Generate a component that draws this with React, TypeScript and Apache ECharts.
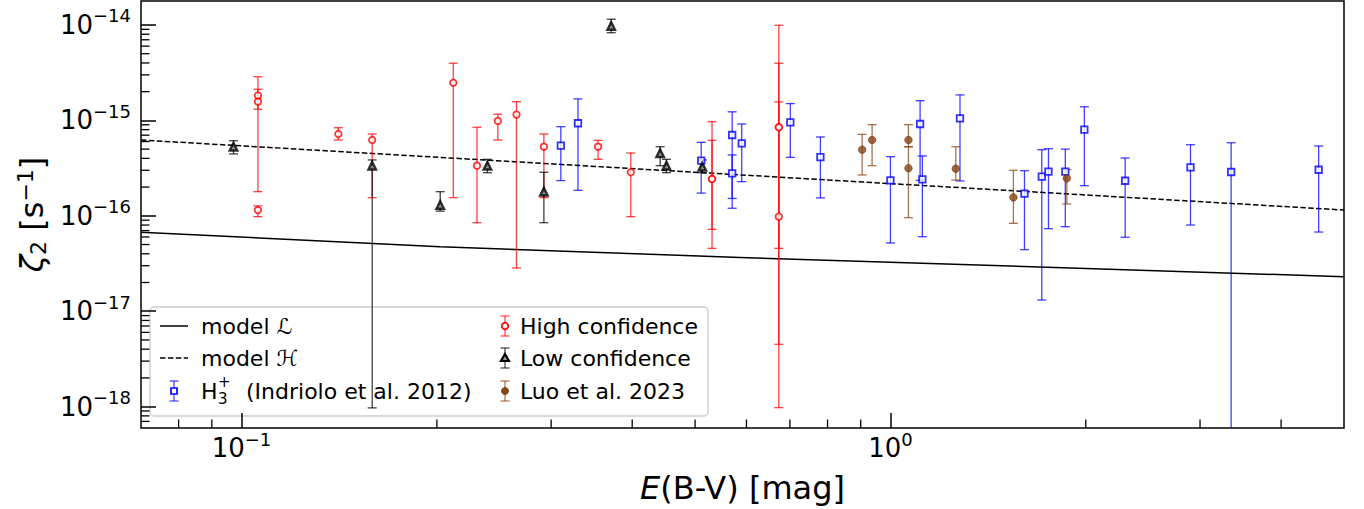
import React, { useEffect, useRef } from "react";
import * as echarts from "echarts";

const FONT = "DejaVu Sans";
const X_MIN = 0.07;
const X_MAX = 5.0;
const Y_MIN = 5.97e-19;
const Y_MAX = 1.784e-14;

// model curves
const modelLX = [0.07, 0.2024, 0.5867, 5.0];
const modelLY = [6.71e-17, 4.74e-17, 3.66e-17, 2.3e-17];
const modelHX = [0.07, 5.0];
const modelHY = [6.23e-16, 1.15e-16];

// High confidence (red circles): x, value, lower bound, upper bound
const highX = [0.106, 0.106, 0.106, 0.141, 0.159, 0.212, 0.2306, 0.2483, 0.2653, 0.2924, 0.3544, 0.398, 0.531, 0.531, 0.673, 0.673, 0.673];
const highY = [1.82e-15, 1.57e-15, 1.15e-16, 7.2e-16, 6.23e-16, 2.48e-15, 3.35e-16, 9.87e-16, 1.15e-15, 5.3e-16, 5.3e-16, 2.86e-16, 2.43e-16, 2.43e-16, 8.47e-16, 9.8e-17, 8.47e-16];
const highLo = [1.31e-15, 1.79e-16, 9.8e-17, 6.23e-16, 1.55e-16, 1.55e-16, 8.47e-17, 6.23e-16, 2.84e-17, 1.55e-16, 3.91e-16, 9.8e-17, 4.56e-17, 7.22e-17, 4.5e-18, 9.75e-19, 4.56e-17];
const highHi = [2.12e-15, 2.87e-15, 1.27e-16, 8.38e-16, 7.2e-16, 3.97e-15, 8.47e-16, 1.16e-15, 1.57e-15, 7.2e-16, 6.18e-16, 4.55e-16, 9.69e-16, 6.18e-16, 9.93e-15, 3.97e-15, 1.56e-15];

// Low confidence (black triangles)
const lowX = [0.0972, 0.159, 0.2024, 0.2393, 0.2924, 0.3713, 0.4417, 0.4517, 0.513];
const lowY = [5.3e-16, 3.35e-16, 1.3e-16, 3.35e-16, 1.79e-16, 9.76e-15, 4.52e-16, 3.35e-16, 3.27e-16];
const lowLo = [4.45e-16, 9.7e-19, 1.12e-16, 2.83e-16, 8.47e-17, 8.3e-15, 3.35e-16, 2.83e-16, 2.83e-16];
const lowHi = [6.12e-16, 3.85e-16, 1.79e-16, 3.91e-16, 2.86e-16, 1.15e-14, 5.3e-16, 3.91e-16, 3.85e-16];

// H3+ (Indriolo et al. 2012), blue squares
const h3X = [0.3105, 0.33, 0.511, 0.5703, 0.5703, 0.59, 0.701, 0.78, 1.0, 1.111, 1.12, 1.28, 1.609, 1.711, 1.752, 1.86, 1.99, 2.3, 2.9, 3.35, 4.57];
const h3Y = [5.43e-16, 9.33e-16, 3.78e-16, 7.03e-16, 2.79e-16, 5.75e-16, 9.55e-16, 4.13e-16, 2.35e-16, 9.17e-16, 2.41e-16, 1.05e-15, 1.71e-16, 2.57e-16, 2.9e-16, 2.9e-16, 7.99e-16, 2.33e-16, 3.22e-16, 2.88e-16, 3.04e-16];
const h3Lo = [2.34e-16, 1.85e-16, 1.73e-16, 1.52e-16, 1.2e-16, 2.28e-16, 4.1e-16, 1.54e-16, 5.19e-17, 2.35e-16, 6.04e-17, 2.32e-16, 4.42e-17, 1.31e-17, 7.33e-17, 7.69e-17, 2.07e-16, 5.96e-17, 8.0e-17, 1e-20, 6.76e-17];
const h3Hi = [8.59e-16, 1.68e-15, 5.89e-16, 1.23e-15, 4.34e-16, 9.17e-16, 1.5e-15, 6.7e-16, 4.17e-16, 1.61e-15, 4.24e-16, 1.85e-15, 2.97e-16, 4.93e-16, 5.05e-16, 5.0e-16, 1.39e-15, 4.04e-16, 5.56e-16, 5.83e-16, 5.39e-16];

// Luo et al. 2023, brown
const luoX = [0.9045, 0.937, 1.066, 1.066, 1.261, 1.547, 1.87];
const luoY = [4.93e-16, 6.23e-16, 6.23e-16, 3.15e-16, 3.12e-16, 1.56e-16, 2.47e-16];
const luoLo = [2.68e-16, 3.35e-16, 5.3e-16, 9.55e-17, 2.37e-16, 8.34e-17, 1.33e-16];
const luoHi = [7.14e-16, 9.02e-16, 9.02e-16, 5.3e-16, 5.3e-16, 3.0e-16, 3.04e-16];

// minor tick positions
const minorXTicks = [0.08, 0.09, 0.2, 0.3, 0.4, 0.5, 0.6, 0.7, 0.8, 0.9, 2, 3, 4];
const minorYTicks = [
  7e-19, 8e-19, 9e-19,
  2e-18, 3e-18, 4e-18, 5e-18, 6e-18, 7e-18, 8e-18, 9e-18,
  2e-17, 3e-17, 4e-17, 5e-17, 6e-17, 7e-17, 8e-17, 9e-17,
  2e-16, 3e-16, 4e-16, 5e-16, 6e-16, 7e-16, 8e-16, 9e-16,
  2e-15, 3e-15, 4e-15, 5e-15, 6e-15, 7e-15, 8e-15, 9e-15,
];

const RED = "#ff0000";
const BLUE = "#0000ff";
const BLACK = "#000000";
const BROWN = "#8b4513";

const zip4 = (x: number[], y: number[], lo: number[], hi: number[]) =>
  x.map((v, i) => [v, y[i], lo[i], hi[i]]);

const CAP = 4.5;

function errorSeries(name: string, color: string, data: number[][]) {
  return {
    type: "custom",
    name,
    silent: true,
    clip: true,
    data,
    encode: { x: 0, y: 1 },
    renderItem: (_p: any, api: any) => {
      const x = api.value(0);
      const lo = api.value(2);
      const hi = api.value(3);
      const t = api.coord([x, hi]);
      const b = api.coord([x, lo]);
      const style = { stroke: color, lineWidth: 1.3, opacity: 0.75 };
      return {
        type: "group",
        children: [
          { type: "line", shape: { x1: t[0], y1: t[1], x2: b[0], y2: b[1] }, style },
          { type: "line", shape: { x1: t[0] - CAP, y1: t[1], x2: t[0] + CAP, y2: t[1] }, style },
          { type: "line", shape: { x1: b[0] - CAP, y1: b[1], x2: b[0] + CAP, y2: b[1] }, style },
        ],
      };
    },
    z: 3,
  };
}

function markerSeries(name: string, data: number[][], symbol: string, size: number, itemStyle: any) {
  return {
    type: "scatter",
    name,
    silent: true,
    data: data.map((d) => [d[0], d[1]]),
    symbol,
    symbolSize: size,
    itemStyle,
    z: 4,
  };
}

const expLabel = (v: number) => {
  const e = Math.round(Math.log10(v));
  const s = e < 0 ? "\u2212" + -e : String(e);
  return `{b|10}{s|${s}}`;
};

function legendIcon(cx: number, cy: number, color: string, marker: any[]) {
  const st = { stroke: color, lineWidth: 1.3, opacity: 0.7 };
  return [
    { type: "line", shape: { x1: cx, y1: cy - 10, x2: cx, y2: cy + 10 }, style: st },
    { type: "line", shape: { x1: cx - CAP, y1: cy - 10, x2: cx + CAP, y2: cy - 10 }, style: st },
    { type: "line", shape: { x1: cx - CAP, y1: cy + 10, x2: cx + CAP, y2: cy + 10 }, style: st },
    ...marker,
  ];
}

const legendText = (x: number, y: number, text: string) => ({
  type: "text",
  x,
  y,
  style: { text, fill: "#000", font: `22px '${FONT}'`, textAlign: "left", textVerticalAlign: "middle" },
});

function buildOption(): any {
  const highData = zip4(highX, highY, highLo, highHi);
  const lowData = zip4(lowX, lowY, lowLo, lowHi);
  const h3Data = zip4(h3X, h3Y, h3Lo, h3Hi);
  const luoData = zip4(luoX, luoY, luoLo, luoHi);

  const r1 = 326, r2 = 358, r3 = 391;
  const c1 = 174, c2 = 505;

  const legend = {
    type: "group",
    z: 100,
    children: [
      {
        type: "rect",
        shape: { x: 150, y: 307, width: 558, height: 109, r: 4 },
        style: { fill: "rgba(255,255,255,0.8)", stroke: "#cccccc", lineWidth: 1.3 },
      },
      { type: "line", shape: { x1: 160, y1: r1, x2: 188, y2: r1 }, style: { stroke: "#000", lineWidth: 1.5 } },
      legendText(201, r1, "model \u2112"),
      { type: "line", shape: { x1: 160, y1: r2, x2: 188, y2: r2 }, style: { stroke: "#000", lineWidth: 1.5, lineDash: [5.5, 2.4] } },
      legendText(201, r2, "model \u210B"),
      ...legendIcon(c1, r3, BLUE, [
        { type: "rect", shape: { x: c1 - 3, y: r3 - 3, width: 6, height: 6 }, style: { fill: "#fff", stroke: BLUE, lineWidth: 1.7 } },
      ]),
      legendText(201, r3, "H"),
      { type: "text", x: 218, y: r3 + 8, style: { text: "3", fill: "#000", font: `15px '${FONT}'`, textAlign: "left", textVerticalAlign: "middle" } },
      { type: "text", x: 218, y: r3 - 9, style: { text: "+", fill: "#000", font: `15px '${FONT}'`, textAlign: "left", textVerticalAlign: "middle" } },
      legendText(246, r3, "(Indriolo et al. 2012)"),
      ...legendIcon(c2, r1, RED, [
        { type: "circle", shape: { cx: c2, cy: r1, r: 3.3 }, style: { fill: "#fff", stroke: RED, lineWidth: 1.7 } },
      ]),
      legendText(520, r1, "High confidence"),
      ...legendIcon(c2, r2, BLACK, [
        { type: "polygon", shape: { points: [[c2, r2 - 4], [c2 + 4, r2 + 3], [c2 - 4, r2 + 3]] }, style: { fill: "#999", stroke: BLACK, lineWidth: 2.2 } },
      ]),
      legendText(520, r2, "Low confidence"),
      ...legendIcon(c2, r3, BROWN, [
        { type: "circle", shape: { cx: c2, cy: r3, r: 3.5 }, style: { fill: BROWN, stroke: "#6e3510", lineWidth: 0.8 } },
      ]),
      legendText(520, r3, "Luo et al. 2023"),
    ],
  };

  const tickLabelRich = {
    b: { fontSize: 26, fontFamily: FONT, color: "#000" },
    s: { fontSize: 18, fontFamily: FONT, color: "#000", padding: [0, 0, 18, 0] },
  };

  return {
    animation: false,
    backgroundColor: "#ffffff",
    textStyle: { fontFamily: FONT },
    grid: {
      left: 141,
      top: 1,
      right: 20,
      bottom: 81,
      show: true,
      borderColor: "#000",
      borderWidth: 1.5,
      containLabel: false,
      outerBoundsMode: "none",
    },
    xAxis: {
      type: "log",
      logBase: 10,
      min: X_MIN,
      max: X_MAX,
      axisLine: { show: false },
      axisTick: { show: true, inside: true, length: 15, lineStyle: { color: "#000", width: 1.5 } },
      splitLine: { show: false },
      axisLabel: {
        showMinLabel: false,
        showMaxLabel: false,
        margin: 2,
        formatter: expLabel,
        rich: tickLabelRich,
      },
      name: "{e|E}(B-V) [mag]",
      nameLocation: "middle",
      nameGap: 44,
      nameTextStyle: {
        fontSize: 32,
        fontFamily: FONT,
        color: "#000",
        rich: { e: { fontSize: 32, fontFamily: FONT, fontStyle: "italic", color: "#000" } },
      },
    },
    yAxis: {
      type: "log",
      logBase: 10,
      min: Y_MIN,
      max: Y_MAX,
      axisLine: { show: false },
      axisTick: { show: true, inside: true, length: 15, lineStyle: { color: "#000", width: 1.5 } },
      splitLine: { show: false },
      axisLabel: {
        showMinLabel: false,
        showMaxLabel: false,
        margin: 10,
        formatter: expLabel,
        rich: tickLabelRich,
      },
      name: "{z|\u03B6}{sub|2} [s{sup|\u22121}]",
      nameLocation: "middle",
      nameRotate: 90,
      nameGap: 89,
      nameTextStyle: {
        fontSize: 32,
        fontFamily: FONT,
        color: "#000",
        rich: {
          z: { fontSize: 32, fontFamily: FONT, fontStyle: "italic", color: "#000" },
          sub: { fontSize: 22, fontFamily: FONT, color: "#000", padding: [12, 0, 0, 0] },
          sup: { fontSize: 22, fontFamily: FONT, color: "#000", padding: [0, 0, 14, 0] },
        },
      },
    },
    graphic: [legend],
    series: [
      {
        type: "custom",
        name: "minorX",
        silent: true,
        data: minorXTicks.map((v) => [v, Y_MIN]),
        encode: { x: 0, y: 1 },
        renderItem: (_p: any, api: any) => {
          const p = api.coord([api.value(0), Y_MIN]);
          return { type: "line", shape: { x1: p[0], y1: p[1], x2: p[0], y2: p[1] - 8.5 }, style: { stroke: "#000", lineWidth: 1.3 } };
        },
        z: 1,
      },
      {
        type: "custom",
        name: "minorY",
        silent: true,
        data: minorYTicks.map((v) => [X_MIN, v]),
        encode: { x: 0, y: 1 },
        renderItem: (_p: any, api: any) => {
          const p = api.coord([X_MIN, api.value(1)]);
          return { type: "line", shape: { x1: p[0], y1: p[1], x2: p[0] + 8.5, y2: p[1] }, style: { stroke: "#000", lineWidth: 1.3 } };
        },
        z: 1,
      },
      {
        type: "line",
        name: "model L",
        silent: true,
        data: modelLX.map((x, i) => [x, modelLY[i]]),
        showSymbol: false,
        symbol: "none",
        lineStyle: { color: "#000", width: 1.5 },
        z: 2,
      },
      {
        type: "line",
        name: "model H",
        silent: true,
        data: modelHX.map((x, i) => [x, modelHY[i]]),
        showSymbol: false,
        symbol: "none",
        lineStyle: { color: "#000", width: 1.5, type: [5.5, 2.4] },
        z: 2,
      },
      errorSeries("H3+ err", BLUE, h3Data),
      markerSeries("H3+", h3Data, "rect", 6.5, { color: "#fff", borderColor: BLUE, borderWidth: 1.8 }),
      errorSeries("High err", RED, highData),
      markerSeries("High confidence", highData, "circle", 6.5, { color: "#fff", borderColor: RED, borderWidth: 1.8 }),
      errorSeries("Low err", BLACK, lowData),
      markerSeries("Low confidence", lowData, "triangle", 7.5, { color: "#999", borderColor: BLACK, borderWidth: 2.4 }),
      errorSeries("Luo err", BROWN, luoData),
      markerSeries("Luo et al. 2023", luoData, "circle", 7.5, { color: BROWN, borderColor: "#6e3510", borderWidth: 0.8 }),
    ],
  };
}

export default function App() {
  const ref = useRef<HTMLDivElement>(null);
  useEffect(() => {
    if (!ref.current) return;
    const chart = echarts.init(ref.current, undefined, { renderer: "svg" });
    chart.setOption(buildOption());
    return () => chart.dispose();
  }, []);
  return (
    <div
      ref={ref}
      style={{ position: "absolute", left: 0, top: 0, width: 1364, height: 509, background: "#fff" }}
    />
  );
}
